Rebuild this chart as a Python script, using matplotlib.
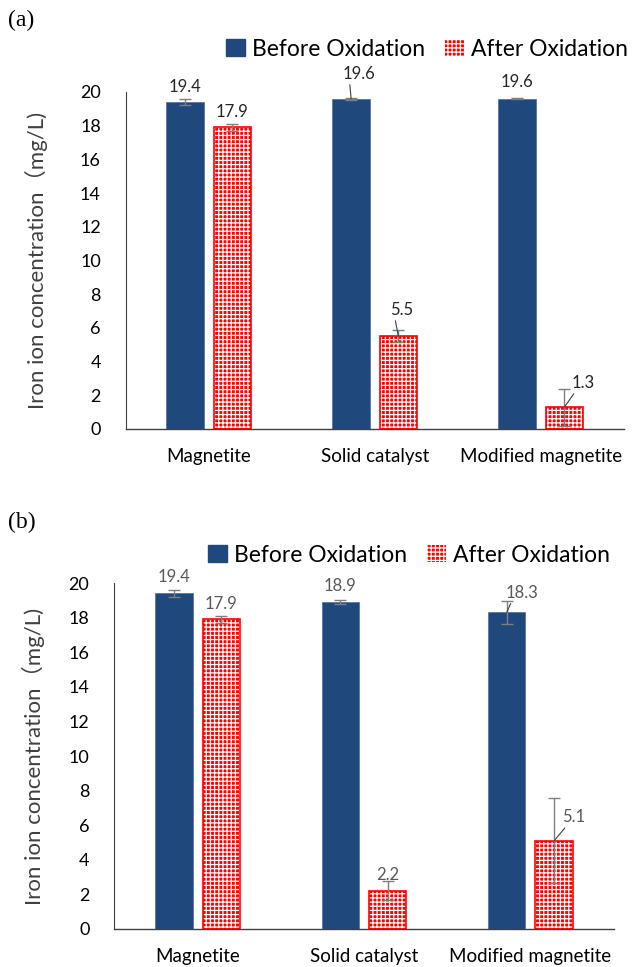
import numpy as np
import matplotlib
matplotlib.use('Agg')
import matplotlib.pyplot as plt
from matplotlib.patches import Patch

plt.rcParams['font.family'] = ['Lato', 'Noto Sans CJK SC', 'DejaVu Sans']
plt.rcParams['hatch.linewidth'] = 0.9

categories = ['Magnetite', 'Solid catalyst', 'Modified magnetite']

before_a = [19.4, 19.6, 19.6]
before_a_err = [0.2, 0.05, 0.02]
after_a = [17.9, 5.5, 1.3]
after_a_err = [0.2, 0.35, 1.1]

before_b = [19.4, 18.9, 18.3]
before_b_err = [0.2, 0.12, 0.65]
after_b = [17.9, 2.2, 5.1]
after_b_err = [0.2, 0.55, 2.45]

BLUE = '#1f497d'
RED = '#ff0000'
ERR = '#7f7f7f'

# label offsets (dx in category units, dy in data units, leader line?)
lab_a = {'before': [(0, 0.9, False), (0.05, 1.47, True), (0, 1.0, False)],
         'after': [(0, 0.9, False), (0.02, 1.56, True), (0.11, 1.43, True)]}
lab_b = {'before': [(0, 0.95, False), (0, 0.93, False), (0.09, 1.14, True)],
         'after': [(0, 0.9, False), (0, 0.92, False), (0.12, 1.37, True)]}

fig = plt.figure(figsize=(6.32, 9.67), dpi=100)


def panel(rect, before, berr, after, aerr, labs, lab_color, letter, letter_y, leg_y, leg_x, ylab_x):
    ax = fig.add_axes(rect)
    x = np.arange(len(categories))
    w = 0.225
    off = 0.1425
    ax.bar(x - off, before, w, color=BLUE, edgecolor='#4f6f9f', linewidth=0.5, zorder=2)
    ax.bar(x + off, after, w, color=RED, edgecolor='white', hatch='++++', linewidth=0, zorder=2)
    ax.bar(x + off, after, w, fill=False, edgecolor=RED, linewidth=1.2, zorder=3)
    ax.errorbar(x - off, before, yerr=berr, fmt='none', ecolor=ERR, elinewidth=1, capsize=4, zorder=4)
    ax.errorbar(x + off, after, yerr=aerr, fmt='none', ecolor=ERR, elinewidth=1, capsize=4, zorder=4)

    for key, xs, vals in (('before', x - off, before), ('after', x + off, after)):
        for i, (xi, v) in enumerate(zip(xs, vals)):
            dx, dy, lead = labs[key][i]
            kw = {}
            if lead:
                kw['arrowprops'] = dict(arrowstyle='-', color='#404040', lw=0.8,
                                        shrinkA=0, shrinkB=0, relpos=(0.2, 0.0))
            ax.annotate('%.1f' % v, xy=(xi, v), xytext=(xi + dx, v + dy),
                        ha='center', va='center', fontsize=12, color=lab_color,
                        annotation_clip=False, zorder=5, **kw)

    ax.set_xlim(-0.5, 2.5)
    ax.set_ylim(0, 20)
    ax.set_yticks(range(0, 21, 2))
    ax.set_xticks(x)
    ax.set_xticklabels(categories, fontsize=13.5)
    ax.tick_params(axis='y', length=0, pad=18, labelsize=13)
    ax.tick_params(axis='x', length=0, pad=14)
    for s in ('top', 'right'):
        ax.spines[s].set_visible(False)
    ax.spines['left'].set_color('#404040')
    ax.spines['bottom'].set_color('#404040')
    ax.spines['left'].set_linewidth(0.8)
    ax.spines['bottom'].set_linewidth(1.0)
    ax.set_ylabel('Iron ion concentration\uff08mg/L)', fontsize=16, color='#404040')
    ax.yaxis.set_label_coords(ylab_x, 0.5)

    fig.text(0.012, letter_y, letter, fontsize=17, family='Liberation Serif', va='center')
    handles = [Patch(facecolor=BLUE, edgecolor=BLUE),
               Patch(facecolor=RED, edgecolor='white', hatch='++++', linewidth=0)]
    fig.legend(handles, ['Before Oxidation', 'After Oxidation'], loc='center',
               bbox_to_anchor=(leg_x, leg_y), ncol=2, frameon=False, fontsize=16.5,
               handlelength=0.8, handleheight=0.8, handletextpad=0.3, columnspacing=0.9,
               borderaxespad=0)
    return ax


panel([0.199, 0.5564, 0.788, 0.3485], before_a, before_a_err, after_a, after_a_err,
      lab_a, '#262626', '(a)', 1 - 20 / 967, 1 - 49 / 967, 427 / 632, -0.157)
panel([0.181, 0.0393, 0.790, 0.3578], before_b, before_b_err, after_b, after_b_err,
      lab_b, '#595959', '(b)', 1 - 522 / 967, 1 - 555 / 967, 409 / 632, -0.139)

fig.savefig('out.png', dpi=100)
